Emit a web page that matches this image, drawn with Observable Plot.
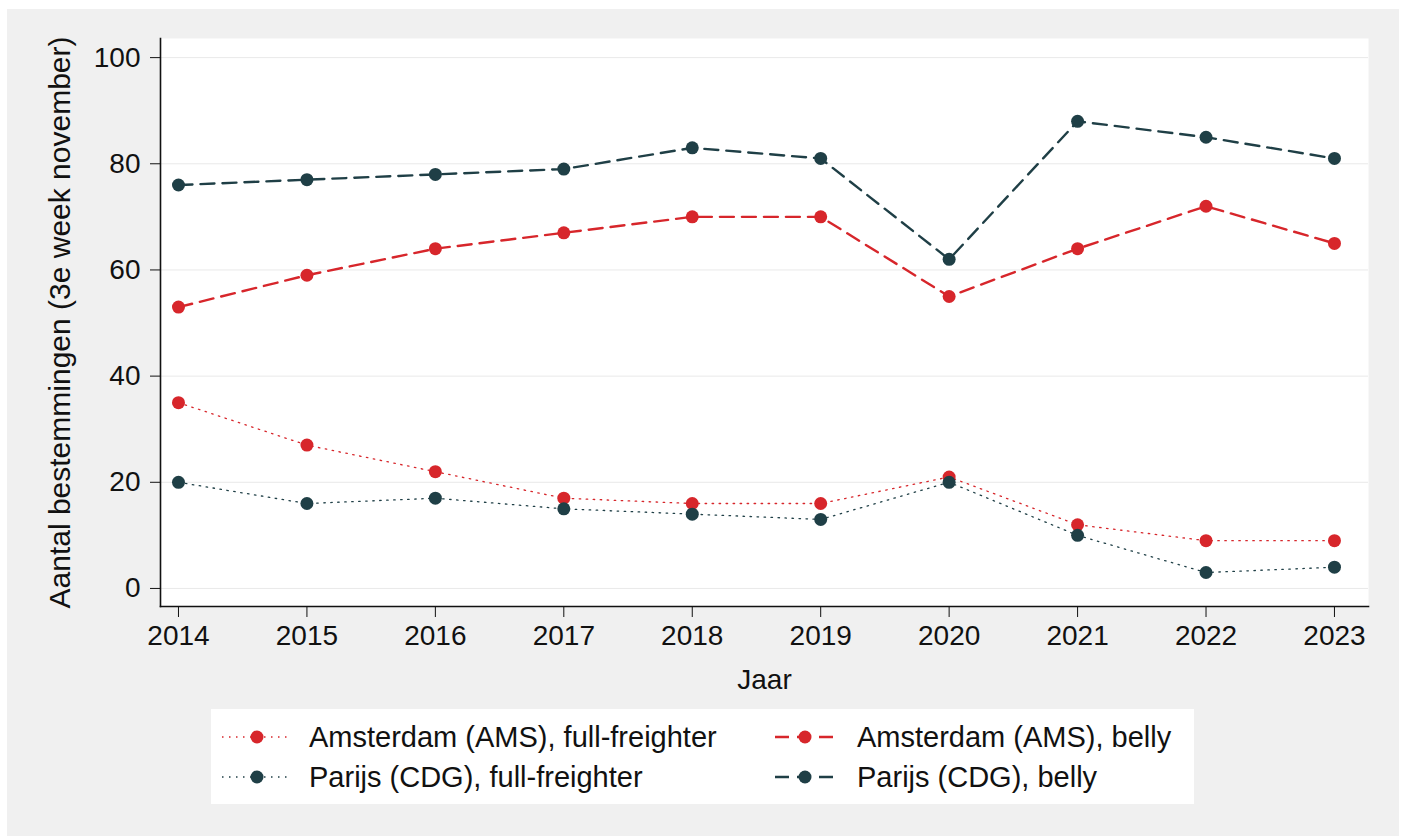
<!DOCTYPE html>
<html><head><meta charset="utf-8">
<script src="https://cdn.jsdelivr.net/npm/d3@7"></script>
<script src="https://cdn.jsdelivr.net/npm/@observablehq/plot@0.6"></script>
<style>
body{margin:0;background:#fff;font-family:Arial,"Liberation Sans",sans-serif;}
#bg{position:absolute;left:7px;top:9px;width:1392px;height:827px;background:#f0f0f0;}
#chart{position:absolute;left:0;top:0;}
#legend{position:absolute;left:211px;top:709px;width:983px;height:95px;background:#fff;}
.item{position:absolute;display:flex;align-items:center;font-size:29px;color:#111;height:36px;}
.item svg{margin-right:17px;}
</style></head>
<body>
<div id="bg"></div>
<div id="chart"></div>
<div id="legend"></div>
<script>
const years = [2014, 2015, 2016, 2017, 2018, 2019, 2020, 2021, 2022, 2023];
const amsFull  = [35, 27, 22, 17, 16, 16, 21, 12, 9, 9];
const cdgFull  = [20, 16, 17, 15, 14, 13, 20, 10, 3, 4];
const amsBelly = [53, 59, 64, 67, 70, 70, 55, 64, 72, 65];
const cdgBelly = [76, 77, 78, 79, 83, 81, 62, 88, 85, 81];
const yTicks = [0, 20, 40, 60, 80, 100];
const seriesNames = ["Amsterdam (AMS), full-freighter", "Amsterdam (AMS), belly", "Parijs (CDG), full-freighter", "Parijs (CDG), belly"];
const yTitle = "Aantal bestemmingen (3e week november)";
const xTitle = "Jaar";

const RED = "#d7262b", DARK = "#1f3f46";
const DOT = "1.5,5.5", DASH = "14,8";
const series = [
  {name: seriesNames[0], values: amsFull,  color: RED,  dash: DOT,  width: 1.3},
  {name: seriesNames[2], values: cdgFull,  color: DARK, dash: DOT,  width: 1.3},
  {name: seriesNames[1], values: amsBelly, color: RED,  dash: DASH, width: 2.4},
  {name: seriesNames[3], values: cdgBelly, color: DARK, dash: DASH, width: 2.4}
];

const marks = [
  Plot.frame({fill: "white", stroke: null}),
  Plot.gridY({ticks: yTicks, stroke: "#e9e9e9", strokeOpacity: 1, strokeWidth: 1})
];
for (const s of series) {
  const rows = years.map((y, i) => ({year: y, value: s.values[i]}));
  marks.push(Plot.line(rows, {x: "year", y: "value", stroke: s.color, strokeWidth: s.width, strokeDasharray: s.dash, curve: "linear"}));
}
for (const s of series) {
  const rows = years.map((y, i) => ({year: y, value: s.values[i]}));
  marks.push(Plot.dot(rows, {x: "year", y: "value", r: 6.5, fill: s.color, stroke: null}));
}
marks.push(
  Plot.axisY({ticks: yTicks, tickSize: 10, tickPadding: 10, fontSize: 28, label: null}),
  Plot.axisX({ticks: years, tickFormat: "d", tickSize: 11, tickPadding: 8, fontSize: 28, label: null}),
  Plot.text([yTitle], {text: d => d, frameAnchor: "left", textAnchor: "middle", rotate: -90, dx: -100, fontSize: 30, fill: "#111"}),
  Plot.text([xTitle], {text: d => d, frameAnchor: "bottom", dy: 82, fontSize: 28, fill: "#111"}),
  Plot.frame({anchor: "left", stroke: "#111", strokeWidth: 1.6}),
  Plot.frame({anchor: "bottom", stroke: "#111", strokeWidth: 1.6})
);

const chart = Plot.plot({
  width: 1402,
  height: 700,
  marginLeft: 160,
  marginRight: 34,
  marginTop: 38,
  marginBottom: 94,
  style: {background: "transparent", fontFamily: "Arial, 'Liberation Sans', sans-serif", fontSize: "28px", color: "#111"},
  x: {type: "linear", domain: [2013.86, 2023.265]},
  y: {domain: [-3.4, 103.6]},
  marks
});
document.getElementById("chart").appendChild(chart);

// legend
const legend = document.getElementById("legend");
const layout = [
  {s: series[0], left: 11, top: 10},
  {s: series[2], left: 559, top: 10},
  {s: series[1], left: 11, top: 50},
  {s: series[3], left: 559, top: 50}
];
for (const {s, left, top} of layout) {
  const div = document.createElement("div");
  div.className = "item";
  div.style.left = left + "px";
  div.style.top = top + "px";
  const ns = "http://www.w3.org/2000/svg";
  const svg = document.createElementNS(ns, "svg");
  svg.setAttribute("width", 70); svg.setAttribute("height", 20);
  const ln = document.createElementNS(ns, "line");
  ln.setAttribute("x1", 0); ln.setAttribute("x2", 70); ln.setAttribute("y1", 10); ln.setAttribute("y2", 10);
  ln.setAttribute("stroke", s.color); ln.setAttribute("stroke-width", s.width); ln.setAttribute("stroke-dasharray", s.dash);
  if (s.dash === DASH) ln.setAttribute("stroke-dashoffset", -5);
  const c = document.createElementNS(ns, "circle");
  c.setAttribute("cx", 35); c.setAttribute("cy", 10); c.setAttribute("r", 6.5); c.setAttribute("fill", s.color);
  svg.appendChild(ln); svg.appendChild(c);
  const span = document.createElement("span");
  span.textContent = s.name;
  div.appendChild(svg); div.appendChild(span);
  legend.appendChild(div);
}
</script>
</body></html>
